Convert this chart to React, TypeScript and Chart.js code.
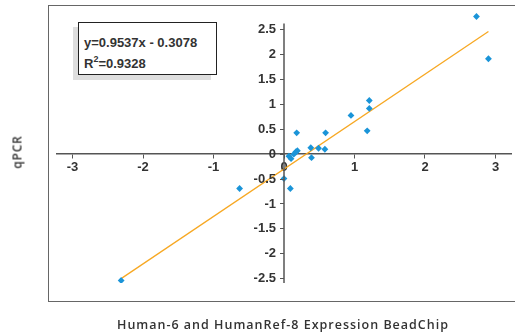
import React, { useEffect, useRef } from "react";
import { Chart, registerables } from "chart.js";

Chart.register(...registerables);

const beadchip: number[] = [2.73, 2.9, 1.21, 1.21, 0.95, 1.18, 0.18, 0.59, 0.38, 0.39, 0.49, 0.58, 0.07, 0.1, 0.14, 0.17, 0.19, 0.0, 0.09, -0.63, -2.31];
const qpcr: number[] = [2.76, 1.91, 1.07, 0.91, 0.77, 0.46, 0.42, 0.42, 0.12, -0.08, 0.11, 0.09, -0.05, -0.1, -0.01, 0.04, 0.06, -0.5, -0.7, -0.7, -2.55];
const trendSlope = 0.9537;
const trendIntercept = -0.3078;
const trendRange: number[] = [-2.3, 2.9];
const xTicks: number[] = [-3, -2, -1, 0, 1, 2, 3];
const yTicks: number[] = [-2.5, -2, -1.5, -1, -0.5, 0, 0.5, 1, 1.5, 2, 2.5];
const yAxisExtent: number[] = [-2.6, 2.62];

const axisColor = "#555555";
const tickFontFamily = "'Liberation Sans', Arial, sans-serif";
const tickFont = { family: tickFontFamily, size: 13, weight: "bold" as const };

const yAxisPlugin = {
  id: "yAxisDraw",
  afterDatasetsDraw(chart: any) {
    const ctx = chart.ctx;
    const xs = chart.scales.x;
    const ys = chart.scales.y;
    const ax = xs.getPixelForValue(0);
    ctx.save();
    ctx.strokeStyle = axisColor;
    ctx.lineWidth = 1.5;
    ctx.beginPath();
    ctx.moveTo(ax, ys.getPixelForValue(yAxisExtent[1]));
    ctx.lineTo(ax, ys.getPixelForValue(yAxisExtent[0]));
    ctx.stroke();
    ctx.lineWidth = 1;
    ctx.fillStyle = "#333333";
    ctx.font = `bold 13px ${tickFontFamily}`;
    ctx.textAlign = "right";
    ctx.textBaseline = "middle";
    yTicks.forEach((v) => {
      const py = Math.round(ys.getPixelForValue(v)) + 0.5;
      ctx.beginPath();
      ctx.moveTo(ax - 4, py);
      ctx.lineTo(ax, py);
      ctx.stroke();
      ctx.fillText(String(v), ax - 8, ys.getPixelForValue(v) + 0.5);
    });
    ctx.restore();
  },
};

export default function App() {
  const ref = useRef<HTMLCanvasElement | null>(null);
  useEffect(() => {
    if (!ref.current) return;
    const points = beadchip.map((x, i) => ({ x, y: qpcr[i] }));
    const trend = trendRange.map((x) => ({ x, y: trendSlope * x + trendIntercept }));
    const chart = new Chart(ref.current, {
      type: "scatter",
      data: {
        datasets: [
          {
            type: "line",
            data: trend,
            borderColor: "#f7a823",
            borderWidth: 1.3,
            pointRadius: 0,
            fill: false,
            order: 2,
          },
          {
            data: points,
            backgroundColor: "#1a94d8",
            borderColor: "#1a94d8",
            pointStyle: "rectRot",
            pointRadius: 3.4,
            borderWidth: 0,
            order: 1,
          } as any,
        ],
      },
      options: {
        responsive: false,
        animation: false,
        layout: { padding: { left: 57, right: 4, top: 12, bottom: 53 } },
        plugins: { legend: { display: false }, tooltip: { enabled: false } },
        scales: {
          x: {
            type: "linear",
            position: { y: 0 } as any,
            min: -3.22,
            max: 3.22,
            afterBuildTicks: (s: any) => {
              s.ticks = xTicks.map((v) => ({ value: v }));
            },
            ticks: { includeBounds: false, font: tickFont, color: "#333333", padding: 2, callback: (v: any) => String(v) },
            grid: { drawOnChartArea: false, drawTicks: true, tickLength: 4, color: axisColor },
            border: { color: axisColor, width: 1.5 },
          },
          y: {
            type: "linear",
            position: { x: 0 } as any,
            min: -2.6,
            max: 2.85,
            afterBuildTicks: (s: any) => {
              s.ticks = yTicks.map((v) => ({ value: v }));
            },
            ticks: { display: false, includeBounds: false },
            grid: { display: false },
            border: { display: false },
          },
        },
      },
      plugins: [yAxisPlugin],
    });
    return () => chart.destroy();
  }, []);

  const titleFont = "'Open Sans', Lato, sans-serif";

  return (
    <div style={{ position: "absolute", left: 0, top: 0, width: 515, height: 336, background: "#fff", overflow: "hidden" }}>
      <div
        style={{
          position: "absolute",
          left: 48,
          top: 5,
          width: 480,
          height: 297,
          border: "1.5px solid #666",
          boxSizing: "border-box",
        }}
      />
      <canvas ref={ref} width={515} height={336} style={{ position: "absolute", left: 0, top: 0 }} />
      <div style={{ position: "absolute", left: 73, top: 27, width: 138, height: 53, background: "#dedede" }} />
      <div
        style={{
          position: "absolute",
          left: 78,
          top: 22,
          width: 139,
          height: 53,
          border: "1.5px solid #222",
          background: "#fff",
          boxSizing: "border-box",
          fontFamily: tickFontFamily,
          fontWeight: "bold",
          fontSize: 13,
          color: "#333",
          padding: "9px 0 0 5px",
          lineHeight: "21px",
        }}
      >
        <div>y=0.9537x - 0.3078</div>
        <div>
          R<sup style={{ fontSize: 9, verticalAlign: "top", lineHeight: "12px" }}>2</sup>=0.9328
        </div>
      </div>
      <div
        style={{
          position: "absolute",
          left: 17,
          top: 152,
          transform: "translate(-50%, -50%) rotate(-90deg)",
          fontFamily: titleFont,
          fontWeight: 600,
          fontSize: 12,
          letterSpacing: 0.8,
          color: "#333",
          whiteSpace: "nowrap",
        }}
      >
        qPCR
      </div>
      <div
        style={{
          position: "absolute",
          left: 0,
          width: 566,
          top: 316,
          textAlign: "center",
          fontFamily: titleFont,
          fontWeight: 600,
          fontSize: 12.5,
          letterSpacing: 1,
          color: "#333",
          whiteSpace: "nowrap",
        }}
      >
        Human-6 and HumanRef-8 Expression BeadChip
      </div>
    </div>
  );
}
